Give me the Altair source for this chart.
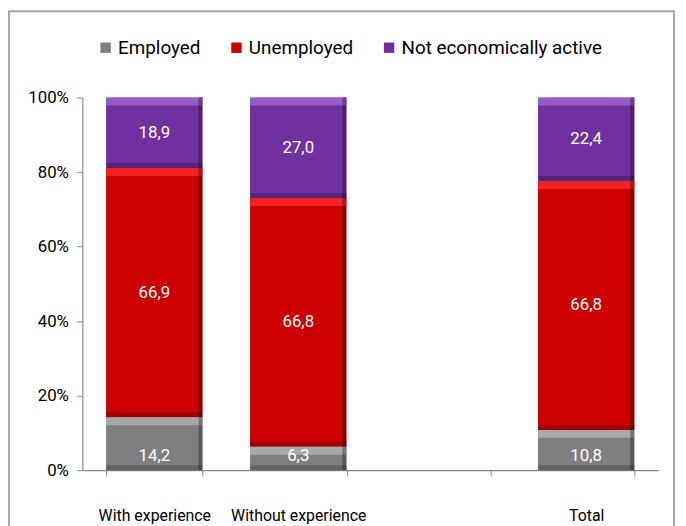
import altair as alt
import pandas as pd

categories = ["With experience", "Without experience", " ", "Total"]
bar_categories = ["With experience", "Without experience", "Total"]
series = ["Employed", "Unemployed", "Not economically active"]
employed = [14.2, 6.3, 10.8]
unemployed = [66.9, 66.8, 66.8]
not_active = [18.9, 27.0, 22.4]
colors = ["#7f7f7f", "#cc0000", "#7030a0"]
highlights = ["#b5b5b5", "#ff2e2e", "#a068d2"]
y_ticks = [0, 0.2, 0.4, 0.6, 0.8, 1.0]

FONT = "Liberation Sans Narrow, Roboto, Liberation Sans, sans-serif"

rows = []
for i, cat in enumerate(bar_categories):
    vals = [employed[i], unemployed[i], not_active[i]]
    total = sum(vals)
    acc = 0.0
    for j, s in enumerate(series):
        y0 = acc / total
        acc += vals[j]
        y1 = acc / total
        rows.append({
            "cat": cat, "series": s, "value": vals[j],
            "y0": y0, "y1": y1, "mid": (y0 + y1) / 2,
            "label": f"{vals[j]:.1f}".replace(".", ","),
            "order": j,
        })
df = pd.DataFrame(rows)

xscale = alt.Scale(domain=categories, paddingInner=0.33, paddingOuter=0.165)
yscale = alt.Scale(domain=[0, 1], nice=False)

base = alt.Chart(df)

bars = base.mark_bar(strokeWidth=0).encode(
    x=alt.X("cat:N", scale=xscale, sort=categories, title=None,
            axis=alt.Axis(labelAngle=0, labelFontSize=16, labelFont=FONT, labelColor="#000000",
                          labelPadding=32, tickBand="extent", tickSize=6, tickColor="#868686",
                          domainColor="#868686", domainWidth=1.2)),
    y=alt.Y("y1:Q", scale=yscale, title=None,
            axis=alt.Axis(values=y_ticks, format=".0%", labelFontSize=17, labelFont=FONT,
                          labelColor="#000000", tickSize=6, tickColor="#868686",
                          domainColor="#868686", domainWidth=1.2, grid=False, labelPadding=8)),
    y2="y0:Q",
    color=alt.Color("series:N", scale=alt.Scale(domain=series, range=colors), title=None,
                    legend=alt.Legend(orient="none", legendX=14, legendY=-60, direction="horizontal",
                                      symbolType="square", symbolSize=110, symbolStrokeWidth=0,
                                      labelFontSize=19, labelFont=FONT, labelColor="#000000",
                                      columnPadding=26, labelOffset=3, labelLimit=0)),
)

top_hl = base.mark_bar(y2Offset=8, opacity=0.75).encode(
    x=alt.X("cat:N", scale=xscale, sort=categories),
    y=alt.Y("y1:Q", scale=yscale),
    y2="y1:Q",
    color=alt.Color("series:N", scale=alt.Scale(domain=series, range=highlights), legend=None),
)

bottom_sh = base.mark_bar(y2Offset=-5, color="#000000", opacity=0.22).encode(
    x=alt.X("cat:N", scale=xscale, sort=categories),
    y=alt.Y("y0:Q", scale=yscale),
    y2="y0:Q",
)

right_sh = base.mark_bar(width=4, xOffset=46.5, color="#000000", opacity=0.3).encode(
    x=alt.X("cat:N", scale=xscale, sort=categories),
    y=alt.Y("y1:Q", scale=yscale),
    y2="y0:Q",
)

labels_mid = base.transform_filter(alt.datum.order > 0).mark_text(
    color="#ffffff", fontSize=17, font=FONT).encode(
    x=alt.X("cat:N", scale=xscale, sort=categories),
    y=alt.Y("mid:Q", scale=yscale),
    text="label:N",
)

labels_base = base.transform_filter(alt.datum.order == 0).mark_text(
    color="#ffffff", fontSize=17, font=FONT, dy=-14).encode(
    x=alt.X("cat:N", scale=xscale, sort=categories),
    y=alt.Y("y0:Q", scale=yscale),
    text="label:N",
)

frame = alt.Chart(alt.Data(values=[{}])).mark_rect(
    fill=None, stroke="#a6a6a6", strokeWidth=2).encode(
    x=alt.value(-74), x2=alt.value(597), y=alt.value(-87), y2=alt.value(700),
)

chart = alt.layer(frame, bars, top_hl, bottom_sh, right_sh, labels_mid, labels_base).resolve_scale(
    color="independent"
).properties(
    width=581, height=376,
    padding={"left": 75, "top": 88, "right": 20, "bottom": 54},
    autosize=alt.AutoSizeParams(type="none"),
    background="#ffffff",
).configure_view(stroke=None)

chart.save("out.html", embed_options={"renderer": "svg", "actions": False})
